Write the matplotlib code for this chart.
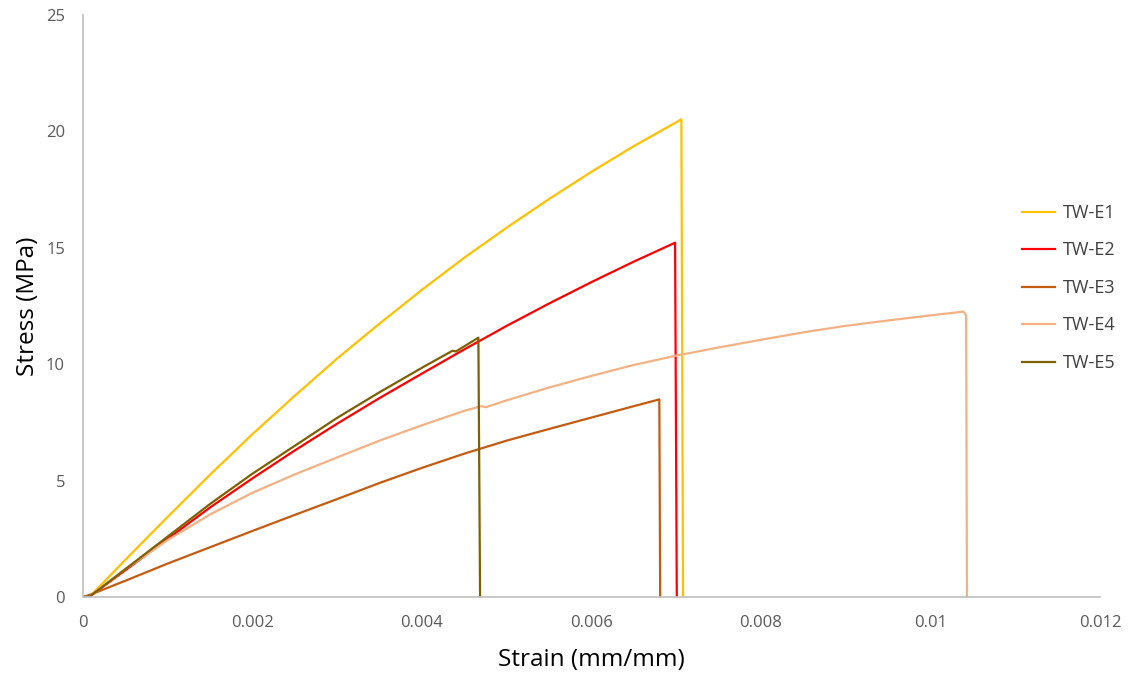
import matplotlib
matplotlib.use("Agg")
import matplotlib.pyplot as plt
from matplotlib.ticker import FuncFormatter

plt.rcParams['font.family'] = ['Open Sans', 'DejaVu Sans']

labels = ["TW-E1", "TW-E2", "TW-E3", "TW-E4", "TW-E5"]
colors = ["#FFC000", "#FF0000", "#C55A11", "#F4B183", "#7F6000"]

e1_strain = [0, 0.00005, 0.0001, 0.0005, 0.001, 0.0015, 0.002, 0.0025, 0.003, 0.0035,
             0.004, 0.0045, 0.005, 0.0055, 0.006, 0.0065, 0.00706, 0.00708]
e1_stress = [0, 0.02, 0.1, 1.6, 3.45, 5.26, 7.0, 8.65, 10.25, 11.75,
             13.2, 14.58, 15.87, 17.1, 18.27, 19.37, 20.52, 0]

e2_strain = [0, 0.00005, 0.0001, 0.0005, 0.001, 0.0015, 0.002, 0.0025, 0.003, 0.0035,
             0.004, 0.0045, 0.005, 0.0055, 0.006, 0.0065, 0.006986, 0.007006]
e2_stress = [0, 0.02, 0.08, 1.15, 2.5, 3.85, 5.1, 6.3, 7.45, 8.55,
             9.6, 10.64, 11.65, 12.61, 13.53, 14.41, 15.22, 0]

e3_strain = [0, 0.0001, 0.0005, 0.001, 0.0015, 0.002, 0.0025, 0.003, 0.0035,
             0.004, 0.0045, 0.005, 0.0055, 0.006, 0.0065, 0.0068, 0.00681]
e3_stress = [0, 0.12, 0.7, 1.44, 2.14, 2.84, 3.53, 4.21, 4.9,
             5.55, 6.16, 6.72, 7.22, 7.71, 8.2, 8.49, 0]

e4_strain = [0, 0.00005, 0.0001, 0.0005, 0.001, 0.0015, 0.002, 0.0025, 0.003, 0.0035,
             0.004, 0.0045, 0.0047, 0.00475, 0.005, 0.0055, 0.006, 0.0065, 0.007,
             0.0075, 0.008, 0.0085, 0.009, 0.0095, 0.01, 0.01039, 0.01042, 0.01043]
e4_stress = [0, 0.02, 0.08, 1.2, 2.45, 3.55, 4.48, 5.27, 6.0, 6.72,
             7.38, 8.0, 8.2, 8.15, 8.45, 9.0, 9.5, 9.97, 10.37,
             10.72, 11.05, 11.37, 11.65, 11.88, 12.1, 12.26, 12.1, 0]

e5_strain = [0, 0.00005, 0.0001, 0.0005, 0.001, 0.0015, 0.002, 0.0025, 0.003, 0.0035,
             0.004, 0.00436, 0.0044, 0.004665, 0.004685]
e5_stress = [0, 0.02, 0.08, 1.2, 2.6, 4.0, 5.3, 6.5, 7.7, 8.8,
             9.85, 10.58, 10.55, 11.14, 0]

series = [(e1_strain, e1_stress), (e2_strain, e2_stress), (e3_strain, e3_stress),
          (e4_strain, e4_stress), (e5_strain, e5_stress)]

x_ticks = [0, 0.002, 0.004, 0.006, 0.008, 0.010, 0.012]
y_ticks = [0, 5, 10, 15, 20, 25]

fig = plt.figure(figsize=(11.28, 6.74), dpi=100)
ax = fig.add_axes([0.0736, 0.1142, 0.9016, 0.8635])

for (xs, ys), lab, col in zip(series, labels, colors):
    ax.plot(xs, ys, color=col, lw=1.6, label=lab, solid_joinstyle='round')

ax.set_xlim(0, 0.012)
ax.set_ylim(0, 25)
ax.set_xticks(x_ticks)
ax.set_yticks(y_ticks)
ax.xaxis.set_major_formatter(FuncFormatter(lambda v, p: ('%g' % round(v, 4))))
ax.tick_params(axis='both', length=0, labelsize=12, colors='#595959')
ax.tick_params(axis='x', pad=13)
ax.tick_params(axis='y', pad=13)

for s in ['top', 'right']:
    ax.spines[s].set_visible(False)
for s in ['left', 'bottom']:
    ax.spines[s].set_color('#BFBFBF')
    ax.spines[s].set_linewidth(1.2)

ax.set_xlabel('Strain (mm/mm)', fontsize=17.5, color='black', labelpad=12)
ax.set_ylabel('Stress (MPa)', fontsize=17.5, color='black', labelpad=4)

leg = ax.legend(loc='center left', bbox_to_anchor=(0.9073, 0.531), frameon=False,
                fontsize=13, labelspacing=1.08, handlelength=1.83, handletextpad=0.44,
                labelcolor='#404040')

fig.savefig('out.png', dpi=100)
